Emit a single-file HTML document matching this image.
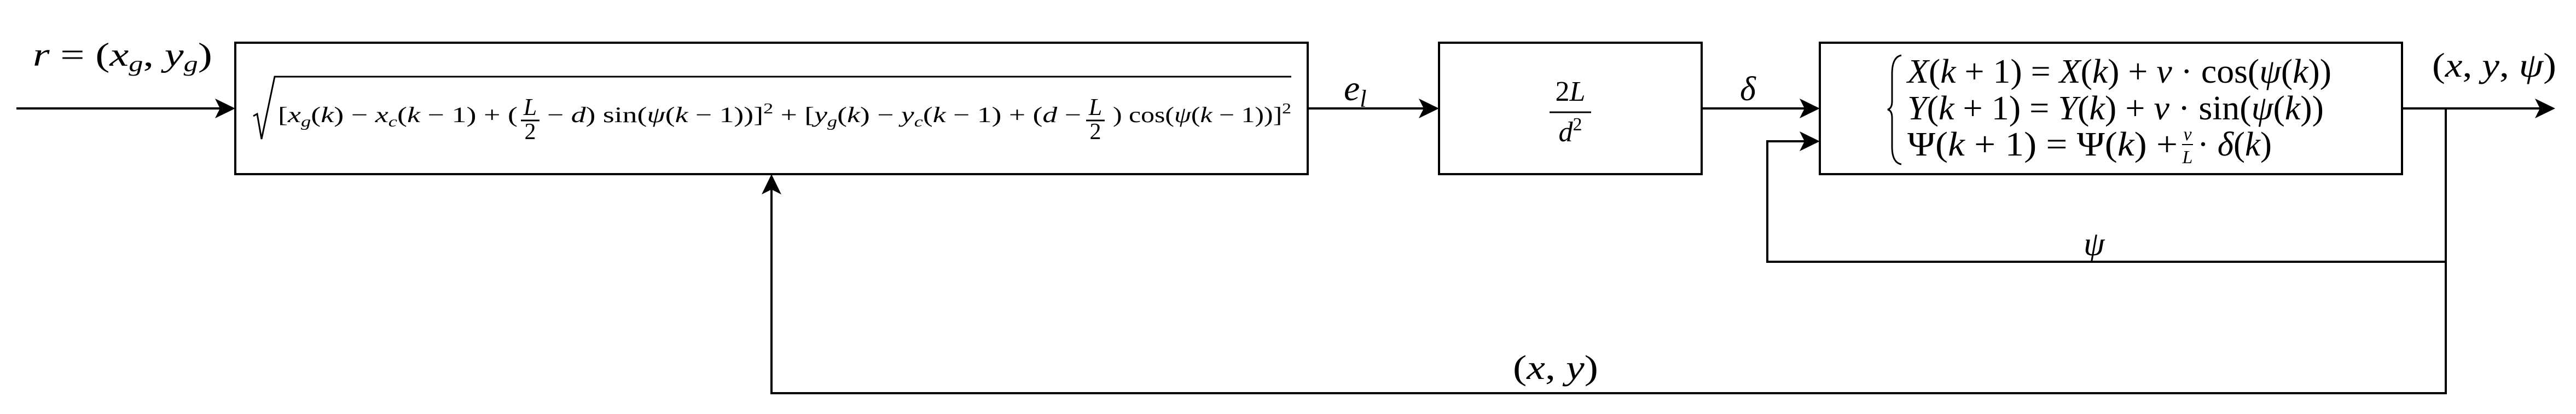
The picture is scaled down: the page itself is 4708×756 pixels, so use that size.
<!DOCTYPE html>
<html><head><meta charset="utf-8"><style>
html,body{margin:0;padding:0;background:#fff;width:4708px;height:756px;overflow:hidden}
svg text{font-family:"Liberation Serif",serif;font-style:italic;fill:#000}
.up{font-style:normal}
</style></head><body>
<svg width="4708" height="756" viewBox="0 0 4708 756" xmlns="http://www.w3.org/2000/svg">
<g stroke="#000" fill="none" stroke-width="4">
<rect x="430" y="78" width="1960" height="240"/>
<rect x="2630" y="78" width="480" height="240"/>
<rect x="3326" y="78" width="1064" height="240"/>
<line x1="30" y1="198" x2="405" y2="198"/>
<line x1="2390" y1="198" x2="2605" y2="198"/>
<line x1="3110" y1="198" x2="3300" y2="198"/>
<line x1="4390" y1="198" x2="4645" y2="198"/>
<polyline points="4470,198 4470,478 3230,478 3230,258 3300,258"/>
<polyline points="4470,478 4470,718 1410,718 1410,345"/>
<polyline points="463,212 470,208 478,254 502,140 2360,140" stroke-width="3"/>
<line x1="952" y1="220" x2="986" y2="220" stroke-width="3"/>
<line x1="1985" y1="220" x2="2019" y2="220" stroke-width="3"/>
<line x1="2832" y1="205" x2="2908" y2="205" stroke-width="3"/>
<line x1="3988" y1="264" x2="4008" y2="264" stroke-width="2"/>
<path d="M3475,101 Q3458,104 3458,135 L3458,185 Q3458,198 3450,200 Q3458,202 3458,215 L3458,268 Q3458,297 3475,300" stroke-width="3"/>
</g>
<g fill="#000">
<polygon points="430,198 393,180 402,198 393,216"/>
<polygon points="2630,198 2593,180 2602,198 2593,216"/>
<polygon points="3326,198 3289,180 3298,198 3289,216"/>
<polygon points="3326,258 3289,240 3298,258 3289,276"/>
<polygon points="4670,198 4633,180 4642,198 4633,216"/>
<polygon points="1410,318 1392,355 1410,346 1428,355"/>
</g>
<text x="60" y="120" font-size="60" textLength="328" lengthAdjust="spacingAndGlyphs">r <tspan class="up">= (</tspan>x<tspan font-size="40" dy="10">g</tspan><tspan dy="-10" class="up">, </tspan>y<tspan font-size="40" dy="10">g</tspan><tspan dy="-10" class="up">)</tspan></text>
<text x="508" y="223" font-size="40" textLength="438" lengthAdjust="spacingAndGlyphs"><tspan class="up">[</tspan>x<tspan font-size="27" dy="8">g</tspan><tspan dy="-8" class="up">(</tspan>k<tspan class="up">) − </tspan>x<tspan font-size="27" dy="8">c</tspan><tspan dy="-8" class="up">(</tspan>k<tspan class="up"> − 1) + (</tspan></text>
<text x="969" y="210" font-size="44" text-anchor="middle">L</text>
<text x="969" y="254" font-size="42" text-anchor="middle" class="up">2</text>
<text x="1000" y="223" font-size="40" textLength="976" lengthAdjust="spacingAndGlyphs"><tspan class="up">− </tspan>d<tspan class="up">) sin(</tspan>ψ<tspan class="up">(</tspan>k<tspan class="up"> − 1))]</tspan><tspan font-size="27" dy="-16" class="up">2</tspan><tspan dy="16" class="up"> + [</tspan>y<tspan font-size="27" dy="8">g</tspan><tspan dy="-8" class="up">(</tspan>k<tspan class="up">) − </tspan>y<tspan font-size="27" dy="8">c</tspan><tspan dy="-8" class="up">(</tspan>k<tspan class="up"> − 1) + (</tspan>d<tspan class="up"> −</tspan></text>
<text x="2002" y="210" font-size="44" text-anchor="middle">L</text>
<text x="2002" y="254" font-size="42" text-anchor="middle" class="up">2</text>
<text x="2034" y="223" font-size="40" textLength="326" lengthAdjust="spacingAndGlyphs"><tspan class="up">) cos(</tspan>ψ<tspan class="up">(</tspan>k<tspan class="up"> − 1))]</tspan><tspan font-size="27" dy="-16" class="up">2</tspan></text>
<text x="2456" y="183" font-size="66">e<tspan font-size="44" dy="12">l</tspan></text>
<text x="2870" y="184" font-size="52" text-anchor="middle"><tspan class="up">2</tspan>L</text>
<text x="2870" y="258" font-size="52" text-anchor="middle">d<tspan font-size="34" dy="-20" class="up">2</tspan></text>
<text x="3180" y="183" font-size="62">δ</text>
<text x="3486" y="151" font-size="62" textLength="775" lengthAdjust="spacingAndGlyphs">X<tspan class="up">(</tspan>k<tspan class="up"> + 1) = </tspan>X<tspan class="up">(</tspan>k<tspan class="up">) + </tspan>v<tspan class="up"> · cos(</tspan>ψ<tspan class="up">(</tspan>k<tspan class="up">))</tspan></text>
<text x="3486" y="218" font-size="62" textLength="761" lengthAdjust="spacingAndGlyphs">Y<tspan class="up">(</tspan>k<tspan class="up"> + 1) = </tspan>Y<tspan class="up">(</tspan>k<tspan class="up">) + </tspan>v<tspan class="up"> · sin(</tspan>ψ<tspan class="up">(</tspan>k<tspan class="up">))</tspan></text>
<text x="3486" y="284" font-size="62" textLength="494" lengthAdjust="spacingAndGlyphs"><tspan class="up">Ψ(</tspan>k<tspan class="up"> + 1) = Ψ(</tspan>k<tspan class="up">) +</tspan></text>
<text x="3998" y="256" font-size="34" text-anchor="middle">v</text>
<text x="3998" y="298" font-size="34" text-anchor="middle">L</text>
<text x="4016" y="284" font-size="62" textLength="136" lengthAdjust="spacingAndGlyphs"><tspan class="up">· </tspan>δ<tspan class="up">(</tspan>k<tspan class="up">)</tspan></text>
<text x="4445" y="140" font-size="62" textLength="227" lengthAdjust="spacingAndGlyphs"><tspan class="up">(</tspan>x<tspan class="up">, </tspan>y<tspan class="up">, </tspan>ψ<tspan class="up">)</tspan></text>
<text x="3808" y="466" font-size="62">ψ</text>
<text x="2765" y="692" font-size="62" textLength="156" lengthAdjust="spacingAndGlyphs"><tspan class="up">(</tspan>x<tspan class="up">, </tspan>y<tspan class="up">)</tspan></text>
</svg>
</body></html>
